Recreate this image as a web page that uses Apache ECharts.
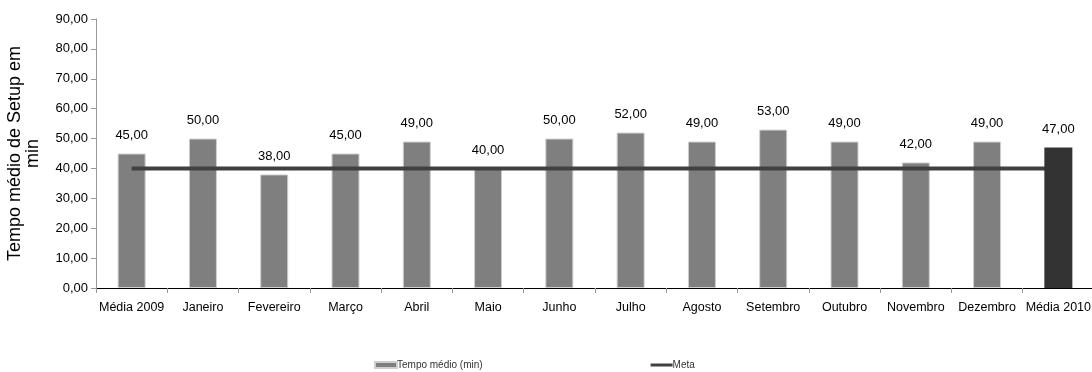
<!DOCTYPE html>
<html style="height: 100%">
<head>
    <meta charset="utf-8">
</head>
<body style="height: 100%; margin: 0; background-color: #fff;">
<div id="container" style="width: 1092px; height: 372px"></div>
<script type="text/javascript" src="https://cdn.jsdelivr.net/npm/echarts@6/dist/echarts.min.js"></script>
<script type="text/javascript">
var categories = ['Média 2009', 'Janeiro', 'Fevereiro', 'Março', 'Abril', 'Maio', 'Junho', 'Julho', 'Agosto', 'Setembro', 'Outubro', 'Novembro', 'Dezembro', 'Média 2010'];
var tempoMedio = [45, 50, 38, 45, 49, 40, 50, 52, 49, 53, 49, 42, 49, 47];
var meta = [40, 40, 40, 40, 40, 40, 40, 40, 40, 40, 40, 40, 40, 40];

var font = '"Liberation Sans", Arial, sans-serif';
var fmt = function (v) { return v.toFixed(2).replace('.', ','); };

// monthly bars in grey, the 2010 average drawn on top of the meta line in dark
var greyBars = tempoMedio.map(function (v, i) { return i < tempoMedio.length - 1 ? v : '-'; });
var darkBars = tempoMedio.map(function (v, i) { return i === tempoMedio.length - 1 ? v : '-'; });

var labelOpt = {
    show: true,
    position: 'top',
    distance: 12,
    fontFamily: font,
    fontSize: 13,
    color: '#000',
    formatter: function (p) { return fmt(p.value); }
};

var chart = echarts.init(document.getElementById('container'));
chart.setOption({
    animation: false,
    grid: { left: 96, right: -2, top: 19, bottom: 84, containLabel: false, outerBoundsMode: 'none' },
    legend: {
        left: 369,
        bottom: -3,
        itemGap: 168,
        itemWidth: 22,
        itemHeight: 6,
        textStyle: { fontFamily: font, fontSize: 10, color: '#333', padding: [0, 0, 0, -5] },
        data: [
            { name: 'Tempo médio (min)', icon: 'rect', itemStyle: { color: '#7f7f7f' } },
            { name: 'Meta', icon: 'path://M0,0 L22,0 L22,3 L0,3 Z', itemStyle: { color: '#404040' } }
        ]
    },
    xAxis: {
        type: 'category',
        data: categories,
        axisLine: { lineStyle: { color: '#000', width: 1 } },
        axisTick: { show: true, alignWithLabel: false, length: 5, lineStyle: { color: '#999' } },
        axisLabel: { fontFamily: font, fontSize: 12.5, color: '#000', margin: 13, interval: 0 }
    },
    yAxis: {
        type: 'value',
        min: 0,
        max: 90,
        interval: 10,
        name: 'Tempo médio de Setup em\nmin',
        nameLocation: 'middle',
        nameGap: 54,
        nameTextStyle: { fontFamily: font, fontSize: 18, color: '#000', lineHeight: 18 },
        axisLine: { show: true, lineStyle: { color: '#999' } },
        axisTick: { show: true, length: 5, lineStyle: { color: '#999' } },
        splitLine: { show: false },
        axisLabel: { fontFamily: font, fontSize: 13, color: '#000', margin: 8, formatter: fmt }
    },
    series: [
        {
            name: 'Tempo médio (min)',
            type: 'bar',
            data: greyBars,
            barWidth: 28,
            z: 2,
            itemStyle: { color: '#7f7f7f', borderColor: '#cfcfcf', borderWidth: 1 },
            label: labelOpt
        },
        {
            name: 'Média 2010',
            type: 'bar',
            data: darkBars,
            barWidth: 28,
            barGap: '-100%',
            z: 4,
            itemStyle: { color: '#333333' },
            label: labelOpt
        },
        {
            name: 'Meta',
            type: 'line',
            data: meta,
            z: 3,
            symbol: 'none',
            lineStyle: { color: '#404040', width: 4 }
        }
    ]
});
</script>
</body>
</html>
